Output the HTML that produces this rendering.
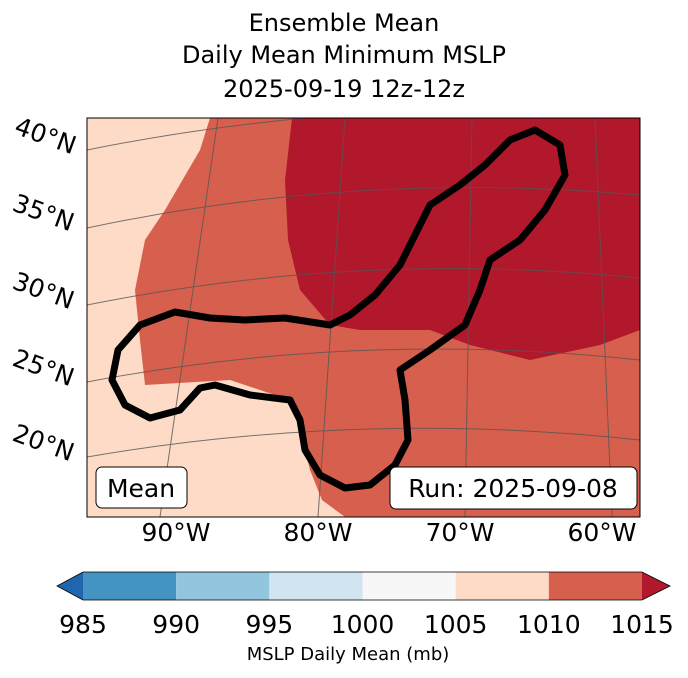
<!DOCTYPE html>
<html><head><meta charset="utf-8"><style>
body{margin:0;background:#fff;font-family:"DejaVu Sans",sans-serif}
svg text{font-family:"DejaVu Sans","Liberation Sans",sans-serif}
</style></head><body>
<svg width="688" height="674" viewBox="0 0 688 674">
<g font-size="24" text-anchor="middle" fill="#000">
<text x="344" y="31">Ensemble Mean</text>
<text x="344" y="63">Daily Mean Minimum MSLP</text>
<text x="344" y="97">2025-09-19 12z-12z</text>
</g>
<defs><clipPath id="mc"><rect x="87" y="118" width="553" height="399"/></clipPath></defs>
<g clip-path="url(#mc)">
<rect x="87" y="118" width="553" height="399" fill="#fddbc7"/>
<polygon fill="#d6604d" points="210,118 640,118 640,517 345,517 322,500 310,470 300,430 290,400 230,380 145,385 140,340 135,290 145,240 165,210 200,150"/>
<polygon fill="#b2182b" points="292,118 640,118 640,330 600,345 530,360 470,345 430,330 360,330 330,325 300,290 288,240 285,180"/>
<g stroke="#555" stroke-width="1" fill="none" opacity="0.8">
<path d="M87,150 Q360,95 640,115"/><path d="M87,228 Q360,170 640,195"/><path d="M87,305 Q360,250 640,278"/><path d="M87,382 Q360,330 640,360"/><path d="M87,457 Q360,410 640,440"/>
<path d="M218,118 L160,517"/><path d="M345,118 L318,517"/><path d="M472,118 L465,517"/><path d="M595,118 L612,517"/>
</g>
<path fill="none" stroke="#000" stroke-width="7" stroke-linejoin="round" d="M330,325 L285,318 245,320 210,318 175,312 140,325 118,350 112,380 125,405 150,418 180,410 200,388 215,385 250,395 290,400 300,420 305,450 320,475 345,488 370,485 395,465 408,440 405,400 400,370 430,350 465,325 480,290 490,260 520,240 545,210 565,175 560,145 535,130 510,140 485,165 460,185 430,205 415,235 400,265 375,295 350,315 Z"/>
</g>
<rect x="87" y="118" width="553" height="399" fill="none" stroke="#000" stroke-width="1"/>
<g font-size="25" fill="#000">
<text transform="translate(13,133) rotate(20)">40°N</text>
<text transform="translate(11,210) rotate(20)">35°N</text>
<text transform="translate(11,288) rotate(20)">30°N</text>
<text transform="translate(11,365) rotate(20)">25°N</text>
<text transform="translate(11,440) rotate(20)">20°N</text>
</g>
<g font-size="25" fill="#000" text-anchor="middle">
<text x="176" y="541">90°W</text><text x="318" y="541">80°W</text><text x="460" y="541">70°W</text><text x="602" y="541">60°W</text>
</g>
<g><rect x="96" y="467" width="91" height="41" rx="6" fill="#fff" stroke="#000"/><text x="141" y="497" font-size="25" text-anchor="middle">Mean</text></g>
<g><rect x="390" y="467" width="247" height="42" rx="6" fill="#fff" stroke="#000"/><text x="513" y="497" font-size="25" text-anchor="middle">Run: 2025-09-08</text></g>
<g id="cbar"></g>
<text x="348" y="660" font-size="18" text-anchor="middle">MSLP Daily Mean (mb)</text>
</svg>
<script>
const levels=[985,990,995,1000,1005,1010,1015];
const colors=["#4393c3","#92c5de","#d1e5f0","#f7f7f7","#fddbc7","#d6604d"];
const under="#2166ac", over="#b2182b";
const g=document.getElementById('cbar');
const x0=83,x1=642,y0=572,h=28;
const sx=v=>x0+(v-levels[0])/(levels[levels.length-1]-levels[0])*(x1-x0);
const NS="http://www.w3.org/2000/svg";
for(let i=0;i<colors.length;i++){
 const r=document.createElementNS(NS,'rect');
 r.setAttribute('x',sx(levels[i]));r.setAttribute('y',y0);
 r.setAttribute('width',sx(levels[i+1])-sx(levels[i]));r.setAttribute('height',h);
 r.setAttribute('fill',colors[i]);
 
 
 g.appendChild(r);
}
const tl=document.createElementNS(NS,'polygon');
tl.setAttribute('points',`${x0},${y0} 57,${y0+h/2} ${x0},${y0+h}`);tl.setAttribute('fill',under);


g.appendChild(tl);
const tr=document.createElementNS(NS,'polygon');
tr.setAttribute('points',`${x1},${y0} 670,${y0+h/2} ${x1},${y0+h}`);tr.setAttribute('fill',over);


g.appendChild(tr);
const o=document.createElementNS(NS,'polygon');
o.setAttribute('points',`${x0},${y0} ${x1},${y0} 670,${y0+h/2} ${x1},${y0+h} ${x0},${y0+h} 57,${y0+h/2}`);
o.setAttribute('fill','none');o.setAttribute('stroke','#000');o.setAttribute('stroke-width','0.8');
g.appendChild(o);
levels.forEach(v=>{
 const t=document.createElementNS(NS,'text');
 t.setAttribute('x',sx(v));t.setAttribute('y',633);t.setAttribute('font-size','25');t.setAttribute('text-anchor','middle');
 
 
 t.textContent=v;g.appendChild(t);
});
</script>
</body></html>
